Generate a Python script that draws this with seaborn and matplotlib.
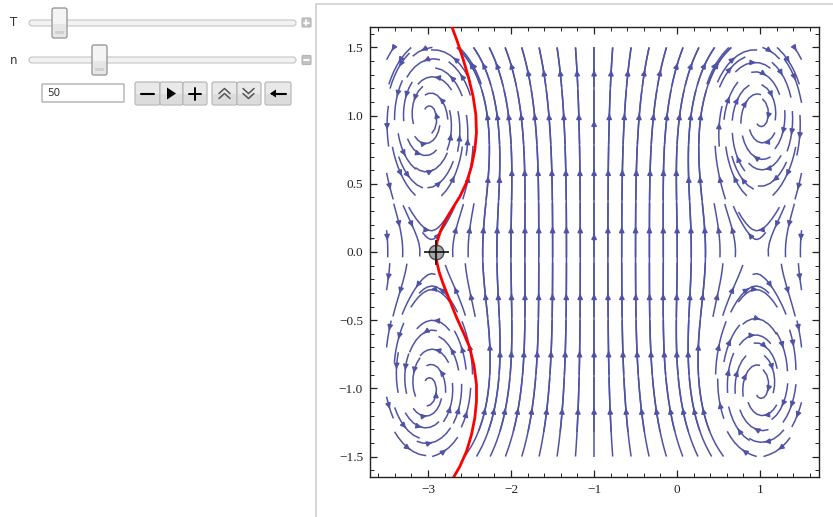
import numpy as np
import matplotlib
matplotlib.use("Agg")
import matplotlib.pyplot as plt
from matplotlib.patches import FancyBboxPatch, Rectangle
import seaborn as sns
import pandas as pd

# ---------------- data ----------------
# vortex field (centres, circulations, inward swirl) + uniform background flow
vortex_x = [-3.0, -3.0, 1.0, 1.0]
vortex_y = [1.0, -1.0, 1.0, -1.0]
vortex_circulation = [1.0, 1.0, -1.0, -1.0]
vortex_swirl = [0.2, 0.2, 0.2, 0.2]
background_vy = -0.09

# red trajectory
trajectory_x = [-2.718, -2.651, -2.578, -2.513, -2.458, -2.425, -2.417, -2.437, -2.477,
                -2.537, -2.618, -2.706, -2.787, -2.851, -2.892, -2.907, -2.899, -2.867,
                -2.819, -2.739, -2.658, -2.570, -2.498, -2.446, -2.417, -2.417, -2.437,
                -2.477, -2.537, -2.618, -2.699]
trajectory_y = [1.659, 1.549, 1.414, 1.279, 1.143, 1.008, 0.873, 0.750, 0.627,
                0.509, 0.406, 0.320, 0.234, 0.153, 0.074, 0.0, -0.061, -0.147,
                -0.233, -0.356, -0.479, -0.597, -0.701, -0.836, -0.971, -1.094, -1.217,
                -1.339, -1.462, -1.573, -1.659]

# locator point
locator_x = [-2.9]
locator_y = [0.0]

x_ticks = [-3, -2, -1, 0, 1]
x_tick_labels = ["\u22123", "\u22122", "\u22121", "0", "1"]
y_ticks = [-1.5, -1.0, -0.5, 0.0, 0.5, 1.0, 1.5]
y_tick_labels = ["\u22121.5", "\u22121.0", "\u22120.5", "0.0", "0.5", "1.0", "1.5"]

slider_labels = ["T", "n"]
input_value = "50"

# ---------------- style ----------------
sns.set_style("ticks")
plt.rcParams["font.family"] = ["DejaVu Sans"]

W, H = 833, 517
fig = plt.figure(figsize=(W / 100, H / 100), dpi=100)
fig.patch.set_facecolor("white")

# ---------------- control panel ----------------
ui = fig.add_axes([0, 0, 1, 1], zorder=-1)
ui.set_xlim(0, W)
ui.set_ylim(H, 0)
ui.axis("off")

ui.plot([316.5, 316.5], [4, H], color="#cfcfcf", lw=1.2)
ui.plot([316.5, W], [4, 4], color="#cfcfcf", lw=1.2)

def rbox(x0, y0, x1, y1, fc, ec, r=2, lw=0.8, z=2):
    p = FancyBboxPatch((x0, y0), x1 - x0, y1 - y0,
                       boxstyle=f"round,pad=0,rounding_size={r}",
                       fc=fc, ec=ec, lw=lw, zorder=z)
    ui.add_patch(p)

for lab, ty, thumb_x in [(slider_labels[0], 23, 52), (slider_labels[1], 60, 92)]:
    ui.text(14, ty, lab, fontsize=8.5, color="#333333", ha="center", va="center")
    rbox(29, ty - 3, 296, ty + 3, "#f2f2f2", "#c4c4c4", r=3)
    rbox(thumb_x, ty - 15, thumb_x + 15, ty + 15, "#f4f4f4", "#8f8f8f", r=2, lw=0.9, z=3)
    ui.add_patch(Rectangle((thumb_x + 1, ty + 1), 13, 13, fc="#e6e6e6", ec="none", zorder=3.5))
    ui.add_patch(Rectangle((thumb_x + 3, ty + 8), 9, 3, fc="#d0d0d0", ec="none", zorder=4))

rbox(302, 18, 311, 27, "#c2c2c2", "#b5b5b5", r=1)
ui.plot([304, 309], [22.5, 22.5], color="white", lw=1.3, zorder=5)
ui.plot([306.5, 306.5], [20, 25], color="white", lw=1.3, zorder=5)
rbox(302, 55.5, 311, 64.5, "#c2c2c2", "#b5b5b5", r=1)
ui.plot([304, 309], [60, 60], color="white", lw=1.3, zorder=5)

rbox(42, 84, 124, 102, "white", "#a8a8a8", r=0.5, lw=0.9)
ui.text(47, 93.5, input_value, fontsize=7.5, color="#333333", va="center", ha="left")

btns = [(135, 160), (160, 183), (183, 207), (212, 237), (237, 261), (265, 291)]
for (a, b) in btns:
    rbox(a, 82, b, 105, "#e9e9e9", "#b0b0b0", r=2)
    ui.add_patch(Rectangle((a + 1, 94), b - a - 2, 10, fc="#dcdcdc", ec="none", zorder=2.5))
cy = 93.5
ui.plot([141, 154], [cy, cy], color="black", lw=1.5, zorder=5)
ui.add_patch(plt.Polygon([[167, cy - 6], [167, cy + 6], [176, cy]], fc="black", ec="none", zorder=5))
ui.plot([189, 201], [cy, cy], color="black", lw=1.4, zorder=5)
ui.plot([195, 195], [cy - 6, cy + 6], color="black", lw=1.4, zorder=5)
for dy in (-3, 2):
    ui.plot([219, 224.5, 230], [cy + dy + 3, cy + dy - 2, cy + dy + 3], color="#555555", lw=1.1, zorder=5)
    ui.plot([243, 248.5, 254], [cy + dy - 2, cy + dy + 3, cy + dy - 2], color="#555555", lw=1.1, zorder=5)
ui.plot([272, 286], [cy, cy], color="black", lw=1.5, zorder=5)
ui.add_patch(plt.Polygon([[270, cy], [276, cy - 4], [276, cy + 4]], fc="black", ec="none", zorder=5))

# ---------------- stream plot ----------------
ax = fig.add_axes([370 / W, 1 - 477 / H, 449 / W, 450 / H])

gx = np.linspace(-3.5, 1.5, 301)
gy = np.linspace(-1.5, 1.5, 181)
X, Y = np.meshgrid(gx, gy)
U = np.zeros_like(X)
V = np.full_like(X, background_vy)
for xc, yc, g, s in zip(vortex_x, vortex_y, vortex_circulation, vortex_swirl):
    dx, dy = X - xc, Y - yc
    r2 = dx ** 2 + dy ** 2 + 0.003
    U += -g * dy / (2 * np.pi * r2)
    V += g * dx / (2 * np.pi * r2)
    loc = np.exp(-r2 / 0.25)
    U += -s * abs(g) * dx / (2 * np.pi * r2) * loc
    V += -s * abs(g) * dy / (2 * np.pi * r2) * loc

cell_r = 0.52
cols = np.linspace(-3.5, 1.5, 31)
rows = [1.41, 0.99, 0.58, 0.16, -0.28, -0.70, -1.12]
mid = (cols > -2.45) & (cols < 0.45)

line_color = "#4f53a5"
common = dict(broken_streamlines=False, integration_direction="both", minlength=0.005,
              color=line_color, linewidth=1.1, density=2)

# continuous lines through the middle band
long_seeds = np.array([(xx, 0.16) for xx in cols[mid]])
long_set = ax.streamplot(gx, gy, U, V, start_points=long_seeds, maxlength=2.0,
                         arrowstyle="-", arrowsize=0.01, **common)
for p in ax.patches[-len(long_seeds):]:
    p.set_visible(False)

# arrow seeds where each continuous line crosses the arrow rows
arrow_seeds = []
for path in long_set.lines.get_segments():
    py = path[:, 1]
    for r in rows:
        idx = np.where((py[:-1] - r) * (py[1:] - r) <= 0)[0]
        if len(idx):
            i = idx[0]
            t = 0 if py[i + 1] == py[i] else (r - py[i]) / (py[i + 1] - py[i])
            arrow_seeds.append(path[i] + t * (path[i + 1] - path[i]))

grid_seeds = list(arrow_seeds)
for yy in rows:
    for xx in cols[~mid]:
        if all((xx - a) ** 2 + (yy - b) ** 2 > cell_r ** 2 for a, b in zip(vortex_x, vortex_y)):
            grid_seeds.append((xx, yy))
grid_seeds = np.array(grid_seeds)

ring_seeds = []
for a, b in zip(vortex_x, vortex_y):
    for k, r in enumerate([0.1, 0.2, 0.3, 0.4, 0.5]):
        n = max(1, int(round(2 * np.pi * r / 0.42)))
        for j in range(n):
            th = 2 * np.pi * j / n + 0.6 * k
            ring_seeds.append((a + r * np.cos(th), b + r * np.sin(th)))
ring_seeds = np.array(ring_seeds)

ax.streamplot(gx, gy, U, V, start_points=grid_seeds, maxlength=0.15, arrowsize=0.75, **common)
ax.streamplot(gx, gy, U, V, start_points=ring_seeds, maxlength=0.11, arrowsize=0.75, **common)

traj = pd.DataFrame({"x": trajectory_x, "y": trajectory_y})
sns.lineplot(data=traj, x="x", y="y", sort=False, estimator=None, color="red",
             lw=2.0, ax=ax, zorder=5)

loc_df = pd.DataFrame({"x": locator_x, "y": locator_y})
sns.scatterplot(data=loc_df, x="x", y="y", s=110, color="#9a9a9a", edgecolor="#333333",
                linewidth=1.0, alpha=0.85, ax=ax, zorder=6)
ax.plot(locator_x, locator_y, marker="+", markersize=18, mew=1.2, color="#111111", zorder=7)

ax.set_xlim(-3.7, 1.71)
ax.set_ylim(-1.65, 1.65)
ax.set_xticks(x_ticks)
ax.set_xticklabels(x_tick_labels)
ax.set_yticks(y_ticks)
ax.set_yticklabels(y_tick_labels)
ax.set_xticks(np.arange(-3.6, 1.71, 0.2), minor=True)
ax.set_yticks(np.arange(-1.6, 1.61, 0.1), minor=True)
ax.set_xlabel("")
ax.set_ylabel("")
ax.tick_params(which="both", direction="in", top=True, right=True, color="#222222")
ax.tick_params(which="major", length=5, width=0.9, labelsize=9.5, pad=5, labelcolor="#222222")
ax.tick_params(which="minor", length=2.8, width=0.7)
for lab in ax.get_xticklabels() + ax.get_yticklabels():
    lab.set_family(["Liberation Serif", "DejaVu Serif"])
for sp in ax.spines.values():
    sp.set_visible(True)
    sp.set_linewidth(1.0)
    sp.set_color("#222222")

fig.savefig("out.png", dpi=100, facecolor="white")
